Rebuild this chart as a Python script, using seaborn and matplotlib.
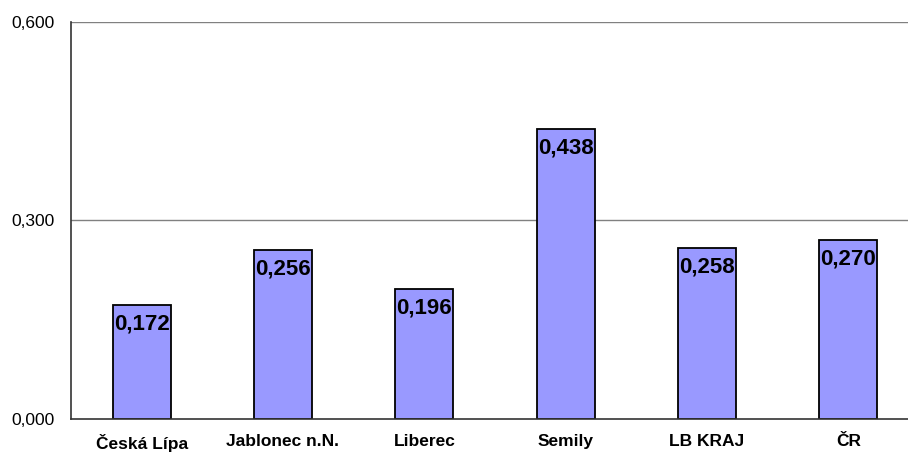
import matplotlib
matplotlib.use("Agg")
import matplotlib.pyplot as plt
import pandas as pd
import seaborn as sns

# values
regions = ["Česká Lípa", "Jablonec n.N.", "Liberec", "Semily", "LB KRAJ", "ČR"]
values = [0.172, 0.256, 0.196, 0.438, 0.258, 0.270]
y_ticks = [0.0, 0.3, 0.6]

df = pd.DataFrame({"region": regions, "value": values})

sns.set_style("white")
plt.rcParams["font.family"] = ["Liberation Sans", "DejaVu Sans"]
plt.rcParams["text.color"] = "black"
plt.rcParams["xtick.color"] = "black"
plt.rcParams["ytick.color"] = "black"

fig = plt.figure(figsize=(9.08, 4.54), dpi=100)
# axes runs past the right edge like in the reference
ax = fig.add_axes([71 / 908, 1 - 419 / 454, 848 / 908, 397 / 454])

sns.barplot(data=df, x="region", y="value", color="#9999FF", saturation=1,
            width=0.41, edgecolor="black", linewidth=1.3, ax=ax)

ax.set_ylim(0, 0.6)
ax.set_xlim(-0.5, len(regions) - 0.5)
ax.set_yticks(y_ticks)
ax.set_yticklabels([f"{t:.3f}".replace(".", ",") for t in y_ticks], fontsize=12.5)
for t in y_ticks[1:]:
    ax.axhline(t, color="#808080", linewidth=1, zorder=0)

ax.set_xticks([i + 0.5 for i in range(-1, len(regions))], minor=False)
ax.set_xticklabels([])
ax.set_xticks(range(len(regions)), minor=True)
ax.set_xticklabels(regions, minor=True, fontsize=12.5, fontweight="bold")
ax.tick_params(axis="x", which="minor", length=0, pad=11)
ax.tick_params(axis="x", which="major", length=5, direction="out", color="#333333")
ax.tick_params(axis="y", length=5, direction="out", color="#333333", pad=7)

for s in ["top", "right"]:
    ax.spines[s].set_visible(False)
ax.spines["left"].set_color("#333333")
ax.spines["bottom"].set_color("#333333")
ax.spines["left"].set_linewidth(1.2)
ax.spines["bottom"].set_linewidth(1.2)
ax.set_xlabel("")
ax.set_ylabel("")

for i, v in enumerate(values):
    ax.annotate(f"{v:.3f}".replace(".", ","), (i, v), xytext=(0, -19),
                textcoords="offset pixels",
                ha="center", va="center", fontsize=16, fontweight="bold")

fig.savefig("out.png", dpi=100)
